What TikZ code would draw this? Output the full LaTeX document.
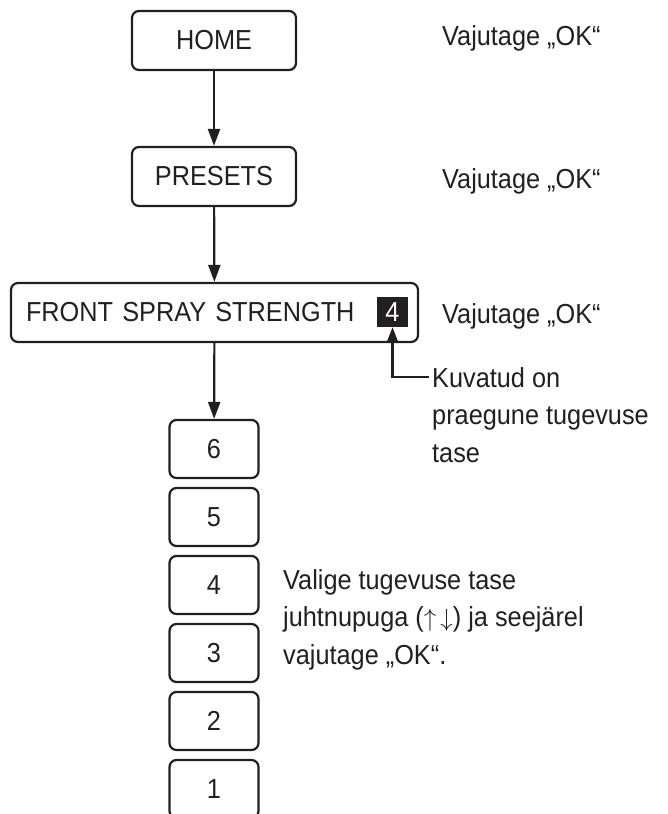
\documentclass[tikz,border=0pt]{standalone}
\usepackage{fontspec}
\setmainfont{Liberation Sans}[FakeStretch=0.92]
\usepackage{xcolor}
\usepackage{tikz}
\usetikzlibrary{arrows.meta,positioning}
\definecolor{ink}{RGB}{35,31,32}

\begin{document}
\begin{tikzpicture}[
  x = 1pt, y = -1pt,
  node distance = 7.8pt,
  font = \fontsize{27.5}{37.5}\selectfont,
  menubox/.style = {rectangle, rounded corners=7pt, draw=ink, line width=2.2pt,
                    text=ink, minimum width=164pt, minimum height=59pt, inner sep=0pt},
  levelbox/.style = {menubox, minimum width=89pt, minimum height=58pt},
  note/.style = {text=ink, align=left, inner sep=0pt},
  arrow/.style = {-{Triangle[length=17pt,width=12pt]}, line width=2.2pt, color=ink},
  pointer/.style = {-{Triangle[length=15pt,width=11pt]}, line width=2.2pt, color=ink},
]
\useasboundingbox (0,0) rectangle (667,814);

\node[menubox] (home) at (214,40.5) {HOME};
\node[menubox] (presets) at (214,176.5) {PRESETS};
\node[menubox, minimum width=407pt, text width=377pt, align=left] (front) at (214.5,312.5) {FRONT SPRAY STRENGTH};
\node[fill=ink, text=white, minimum width=31pt, minimum height=30pt, inner sep=0pt] (current) at (392.5,312) {4};

\node[levelbox] (lv6) at (214,449) {6};
\node[levelbox, below=of lv6] (lv5) {5};
\node[levelbox, below=of lv5] (lv4) {4};
\node[levelbox, below=of lv4] (lv3) {3};
\node[levelbox, below=of lv3] (lv2) {2};
\node[levelbox, below=of lv2] (lv1) {1};

\node[note, anchor=base west] (ok1) at (442,45) {Vajutage „OK“};
\node[note, anchor=base west] (ok2) at (442,188) {Vajutage „OK“};
\node[note, anchor=base west] (ok3) at (442,323) {Vajutage „OK“};
\node[note, anchor=north west, inner xsep=3pt] (shown) at (429,367) {Kuvatud on\\praegune tugevuse\\tase};
\node[note, anchor=north west] (choose) at (283,569) {Valige tugevuse tase\\juhtnupuga ($\uparrow\,\downarrow$) ja seejärel\\vajutage „OK“.};

\draw[arrow] (home) -- (presets);
\draw[arrow] (presets) -- (front);
\draw[arrow] (front) -- (lv6);
\draw[pointer] ([yshift=-10pt]shown.north west) -| (current);
\end{tikzpicture}
\end{document}
